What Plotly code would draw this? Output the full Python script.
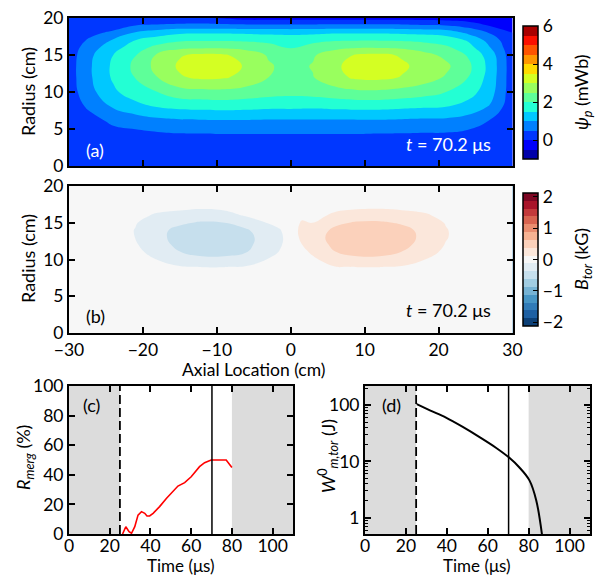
import numpy as np
import plotly.graph_objects as go

W, H = 596, 576
FONT = "Lato"
FS = 18
FS_TICK = 17.5

# ---------------- panel (a): poloidal flux psi_p (mWb) ----------------
axial_a = [-30, -27, -24, -21, -18, -15, -12, -9, -6, -3, 0, 3, 6, 9, 12, 15, 18, 21, 24, 27, 30]
radius_a = [0, 2, 4, 6, 8, 10, 12, 13.5, 15, 16, 17, 18, 19, 20]
# one radial profile per axial position (values at radius_a)
psi_cols = [
    [0.02, 0.02, 0.05, 0.12, 0.2, 0.25, 0.27, 0.27, 0.25, 0.22, 0.18, 0.12, 0.08, 0.04],
    [0.02, 0.04, 0.12, 0.3, 0.62, 0.88, 0.97, 0.98, 0.93, 0.8, 0.6, 0.36, 0.12, 0.02],
    [0.02, 0.08, 0.25, 0.6, 1.05, 1.4, 1.58, 1.6, 1.5, 1.3, 1.05, 0.62, 0.25, 0.02],
    [0.02, 0.1, 0.3, 0.72, 1.3, 1.8, 2.02, 2.12, 1.98, 1.78, 1.5, 1.05, 0.5, 0.03],
    [0.02, 0.12, 0.36, 0.82, 1.52, 2.0, 2.5, 2.67, 2.58, 2.15, 1.75, 1.25, 0.57, 0.04],
    [0.02, 0.14, 0.4, 0.88, 1.62, 2.3, 2.95, 3.08, 2.96, 2.38, 1.92, 1.42, 0.63, 0.05],
    [0.02, 0.15, 0.4, 0.9, 1.65, 2.35, 3.1, 3.3, 3.1, 2.42, 1.95, 1.45, 0.65, 0.05],
    [0.02, 0.15, 0.42, 0.92, 1.68, 2.38, 3.05, 3.2, 3.05, 2.42, 1.95, 1.45, 0.62, -0.05],
    [0.02, 0.15, 0.42, 0.92, 1.65, 2.3, 2.85, 2.95, 2.78, 2.35, 1.92, 1.42, 0.6, -0.2],
    [0.02, 0.15, 0.42, 0.9, 1.6, 2.2, 2.5, 2.55, 2.45, 2.2, 1.85, 1.4, 0.6, -0.2],
    [0.02, 0.15, 0.42, 0.9, 1.6, 2.15, 2.33, 2.35, 2.25, 1.98, 1.8, 1.38, 0.6, -0.2],
    [0.02, 0.15, 0.42, 0.9, 1.58, 2.2, 2.48, 2.53, 2.45, 2.2, 1.85, 1.4, 0.6, -0.2],
    [0.02, 0.15, 0.42, 0.9, 1.62, 2.3, 2.85, 2.92, 2.76, 2.38, 1.95, 1.45, 0.62, -0.2],
    [0.02, 0.15, 0.42, 0.9, 1.65, 2.4, 3.1, 3.2, 3.05, 2.47, 1.97, 1.45, 0.62, -0.2],
    [0.02, 0.15, 0.4, 0.9, 1.65, 2.4, 3.12, 3.3, 3.1, 2.47, 1.97, 1.45, 0.62, -0.2],
    [0.02, 0.14, 0.4, 0.88, 1.6, 2.32, 2.98, 3.08, 2.95, 2.42, 1.95, 1.42, 0.6, -0.2],
    [0.02, 0.13, 0.38, 0.86, 1.55, 2.2, 2.75, 2.85, 2.66, 2.28, 1.88, 1.38, 0.55, -0.22],
    [0.02, 0.12, 0.38, 0.85, 1.5, 2.0, 2.45, 2.6, 2.38, 2.1, 1.75, 1.3, 0.5, -0.25],
    [0.02, 0.1, 0.3, 0.75, 1.3, 1.72, 2.0, 2.12, 1.95, 1.7, 1.45, 0.9, 0.3, -0.3],
    [0.02, 0.06, 0.2, 0.45, 0.95, 1.2, 1.3, 1.33, 1.25, 1.0, 0.8, 0.45, -0.05, -0.35],
    [0.02, 0.0, 0.05, 0.1, 0.15, 0.2, 0.2, 0.2, 0.18, 0.15, 0.1, 0.0, -0.15, -0.35],
]
psi_levels = dict(start=-0.5, end=5.5, size=0.5)
psi_range = (-1.0, 6.0)
psi_ticks = [0, 2, 4, 6]

# ---------------- panel (b): toroidal field B_tor (kG) ----------------
axial_b = [-30, -27, -24, -21, -18, -15, -12, -9, -6, -3, -1.5, 0, 1.5, 3, 6, 9, 12, 15, 18, 21, 24, 27, 30]
radius_b = [0, 4, 7, 8, 9, 10, 11, 12, 13, 14, 15, 16, 17, 18, 20]
zero_col = [0.0] * 15
btor_cols = [
    zero_col, zero_col, zero_col,
    [0, 0, 0, 0, 0, -0.02, -0.06, -0.1, -0.13, -0.135, -0.11, -0.06, -0.02, 0, 0],
    [0, 0, 0, 0, -0.05, -0.13, -0.22, -0.29, -0.32, -0.32, -0.26, -0.16, -0.06, -0.01, 0],
    [0, 0, 0, -0.02, -0.11, -0.25, -0.37, -0.43, -0.45, -0.43, -0.34, -0.2, -0.09, -0.02, 0],
    [0, 0, 0, -0.03, -0.13, -0.32, -0.44, -0.5, -0.53, -0.51, -0.4, -0.24, -0.11, -0.03, 0],
    [0, 0, 0, -0.03, -0.13, -0.32, -0.44, -0.5, -0.52, -0.49, -0.38, -0.22, -0.08, -0.02, 0],
    [0, 0, 0, -0.02, -0.11, -0.25, -0.38, -0.42, -0.43, -0.4, -0.27, -0.1, -0.03, 0, 0],
    [0, 0, 0, 0, -0.05, -0.11, -0.22, -0.27, -0.28, -0.22, -0.11, -0.04, 0, 0, 0],
    [0, 0, 0, 0, 0, -0.05, -0.11, -0.16, -0.18, -0.14, -0.06, -0.01, 0, 0, 0],
    zero_col,
    [0, 0, 0, 0, 0, 0, 0.05, 0.12, 0.17, 0.19, 0.15, 0.07, 0.02, 0, 0],
    [0, 0, 0, 0, 0.02, 0.08, 0.17, 0.24, 0.28, 0.25, 0.12, 0.05, 0.01, 0, 0],
    [0, 0, 0, 0.02, 0.12, 0.26, 0.37, 0.43, 0.45, 0.42, 0.33, 0.17, 0.07, 0.01, 0],
    [0, 0, 0, 0.03, 0.13, 0.32, 0.44, 0.5, 0.53, 0.51, 0.4, 0.24, 0.1, 0.02, 0],
    [0, 0, 0, 0.03, 0.13, 0.32, 0.44, 0.5, 0.53, 0.51, 0.41, 0.25, 0.11, 0.03, 0],
    [0, 0, 0, 0.02, 0.11, 0.26, 0.37, 0.44, 0.46, 0.44, 0.35, 0.21, 0.09, 0.02, 0],
    [0, 0, 0, 0, 0.05, 0.13, 0.23, 0.3, 0.33, 0.32, 0.26, 0.16, 0.06, 0.01, 0],
    [0, 0, 0, 0, 0, 0.03, 0.07, 0.11, 0.14, 0.14, 0.11, 0.06, 0.02, 0, 0],
    zero_col, zero_col, zero_col,
]
btor_levels = dict(start=-1.875, end=1.875, size=0.25)
btor_ticks = [-2, -1, 0, 1, 2]

# ---------------- panel (c): merging ratio ----------------
t_merg = [26.3, 27.9, 29.5, 30.7, 32.3, 33.9, 35.6, 37.2, 38.3, 39.6, 41.3, 44.5, 47.8, 51.0,
          53.5, 56.8, 60.0, 64.1, 66.6, 69.8, 73.9, 77.2, 80.0]
r_merg = [0, 4.9, 1.6, 0.5, 5, 12.8, 15.1, 14, 12.2, 12.2, 14, 18.5, 24, 29,
          32.4, 34.7, 38.7, 45.5, 48.2, 50, 50, 50, 45]

# ---------------- panel (d): toroidal magnetic energy (J) ----------------
t_w = [25.3, 32.0, 39.6, 47.8, 56.0, 64.0, 70.3, 75.5, 80.4, 83.7, 86.5]
w_tor = [104, 80, 60, 41, 27, 17.5, 11.8, 7.8, 4.6, 2.05, 0.51]

t_window = (25, 80)   # analysis window (dashed start, shaded outside)
t_snapshot = 70.2     # time of the contour snapshots
time_ticks = [0, 20, 40, 60, 80, 100]


# ---------------- colour maps ----------------
def _interp(pts, f):
    for (x0, y0), (x1, y1) in zip(pts, pts[1:]):
        if x0 <= f <= x1:
            return y0 + (y1 - y0) * (f - x0) / (x1 - x0)
    return pts[-1][1]


def jet(f):
    r = _interp([(0, 0), (0.35, 0), (0.66, 1), (0.89, 1), (1, 0.5)], f)
    g = _interp([(0, 0), (0.125, 0), (0.375, 1), (0.64, 1), (0.91, 0), (1, 0)], f)
    b = _interp([(0, 0.5), (0.11, 1), (0.34, 1), (0.65, 0), (1, 0)], f)
    return "rgb(%d,%d,%d)" % (round(r * 255), round(g * 255), round(b * 255))


RDBU_R = ["#053061", "#2166ac", "#4393c3", "#92c5de", "#d1e5f0", "#f7f7f7",
          "#fddbc7", "#f4a582", "#d6604d", "#b2182b", "#67001f"]


def rdbu_r(f):
    pos = f * (len(RDBU_R) - 1)
    i = min(int(pos), len(RDBU_R) - 2)
    t = pos - i
    c0 = [int(RDBU_R[i][k:k + 2], 16) for k in (1, 3, 5)]
    c1 = [int(RDBU_R[i + 1][k:k + 2], 16) for k in (1, 3, 5)]
    c = [round(a + (b - a) * t) for a, b in zip(c0, c1)]
    return "rgb(%d,%d,%d)" % tuple(c)


def banded(fn, levels):
    n = int(round((levels["end"] - levels["start"]) / levels["size"])) + 2
    return [[k / (n - 1), fn((k + 0.5) / n)] for k in range(n)]


def px(x):
    return x / W


def py(y):
    return 1 - y / H


fig = go.Figure()

# tick labels sit a little away from the bar; no-break spaces in front push them right
cb_common = dict(
    thickness=15, thicknessmode="pixels", lenmode="fraction",
    xanchor="left", yanchor="top", xpad=0, ypad=0,
    outlinewidth=1.5, outlinecolor="black",
    ticks="inside", ticklen=5, tickwidth=1.2, tickcolor="black",
    tickprefix="\u00a0\u00a0", showtickprefix="all",
    tickfont=dict(family=FONT, size=FS_TICK, color="black"),
)

fig.add_trace(go.Contour(
    x=axial_a, y=radius_a, z=np.array(psi_cols).T,
    contours=dict(coloring="fill", showlines=False, **psi_levels),
    line=dict(width=0, smoothing=1.3),
    colorscale=banded(jet, psi_levels), zmin=psi_range[0], zmax=psi_range[1],
    colorbar=dict(x=px(523), y=py(26), len=(159 - 26) / H, tickvals=psi_ticks, **cb_common),
    xaxis="x", yaxis="y", hoverinfo="skip",
))

fig.add_trace(go.Contour(
    x=axial_b, y=radius_b, z=np.array(btor_cols).T,
    contours=dict(coloring="fill", showlines=False, **btor_levels),
    line=dict(width=0, smoothing=1.3),
    colorscale=banded(rdbu_r, btor_levels), zmin=-2.125, zmax=2.125,
    colorbar=dict(x=px(523), y=py(193), len=(326 - 193) / H, tickvals=btor_ticks, **cb_common),
    xaxis="x2", yaxis="y2", hoverinfo="skip",
))

fig.add_trace(go.Scatter(x=t_merg, y=r_merg, mode="lines",
                         line=dict(color="red", width=1.6),
                         xaxis="x3", yaxis="y3", showlegend=False))

fig.add_trace(go.Scatter(x=t_w, y=w_tor, mode="lines",
                         line=dict(color="black", width=2, shape="spline", smoothing=1.0),
                         xaxis="x4", yaxis="y4", showlegend=False))

axis_common = dict(
    showline=True, linewidth=2, linecolor="black", mirror="allticks",
    ticks="inside", ticklen=6, tickwidth=1.5, tickcolor="black",
    showgrid=False, zeroline=False, automargin=False,
    tickfont=dict(family=FONT, size=FS_TICK, color="black"),
)

dom_top = [px(69), px(512.5)]
fig.update_layout(
    width=W, height=H, margin=dict(l=0, r=0, t=0, b=0, pad=0, autoexpand=False),
    paper_bgcolor="white", plot_bgcolor="white", showlegend=False,
    xaxis=dict(domain=dom_top, range=[-30, 30], tickvals=[-30, -20, -10, 0, 10, 20, 30],
               showticklabels=False, anchor="y", **axis_common),
    yaxis=dict(domain=[py(166), py(18)], range=[0, 20], tickvals=[0, 5, 10, 15, 20],
               anchor="x", **axis_common),
    xaxis2=dict(domain=dom_top, range=[-30, 30], tickvals=[-30, -20, -10, 0, 10, 20, 30],
                anchor="y2", ticklabelstandoff=0, **axis_common),
    yaxis2=dict(domain=[py(333), py(186)], range=[0, 20], tickvals=[0, 5, 10, 15, 20],
                anchor="x2", **axis_common),
    xaxis3=dict(domain=[px(69), px(293)], range=[0, 110], tickvals=time_ticks,
                anchor="y3", ticklabelstandoff=-5, **axis_common),
    yaxis3=dict(domain=[py(534), py(386)], range=[0, 100], tickvals=[0, 20, 40, 60, 80, 100],
                anchor="x3", **axis_common),
    xaxis4=dict(domain=[px(365), px(590)], range=[0, 110], tickvals=time_ticks,
                anchor="y4", ticklabelstandoff=-5, **axis_common),
    yaxis4=dict(domain=[py(534), py(386)], type="log", range=[-0.29, 2.34],
                tickvals=[1, 10, 100], anchor="x4",
                minor=dict(ticks="inside", ticklen=3, tickwidth=1, tickcolor="black",
                           dtick="D1", showgrid=False),
                **axis_common),
)

# shading outside the analysis window and the two time markers
for xa, ya in (("x3", "y3"), ("x4", "y4")):
    for x0, x1 in ((0, t_window[0]), (t_window[1], 110)):
        fig.add_shape(type="rect", xref=xa, yref=ya + " domain", x0=x0, x1=x1, y0=0, y1=1,
                      fillcolor="#dcdcdc", line=dict(width=0), layer="below")
    fig.add_shape(type="line", xref=xa, yref=ya + " domain", x0=t_window[0], x1=t_window[0],
                  y0=0, y1=1, line=dict(color="black", width=1.8, dash="9px,4px"))
    fig.add_shape(type="line", xref=xa, yref=ya + " domain", x0=t_snapshot, x1=t_snapshot,
                  y0=0, y1=1, line=dict(color="black", width=1.5))


def label(text, x, y, color="black", angle=0, xanchor="center", size=FS):
    fig.add_annotation(text=text, x=px(x), y=py(y), xref="paper", yref="paper",
                       showarrow=False, textangle=angle, xanchor=xanchor, yanchor="middle",
                       font=dict(family=FONT, size=size, color=color))


label("(a)", 95, 150, color="white")
label("<i>t</i> = 70.2 μs", 493, 144, color="white", xanchor="right")
label("(b)", 95, 316)
label("<i>t</i> = 70.2 μs", 493, 310, xanchor="right")
label("(c)", 91, 405)
label("(d)", 391, 405)
label("Radius (cm)", 28, 92, angle=-90)
label("Radius (cm)", 28, 259, angle=-90)
label("<i>ψ<sub>p</sub></i> (mWb)", 582, 92, angle=-90)
label("<i>B<sub>tor</sub></i> (kG)", 582, 259, angle=-90)
label("Axial Location (cm)", 254, 369, size=17.5)
label("Time (μs)", 181, 565, size=17)
label("Time (μs)", 477, 565, size=17)
label("<i>R<sub>merg</sub></i> (%)", 24, 458, angle=-90)
label("<i>W</i><sup>0</sup><sub><i>m,tor</i></sub> (J)", 328, 456, angle=-90)

# the page body keeps no default margin so the figure fills the window exactly
fig.write_html("out.html", post_script="document.body.style.margin='0';")
